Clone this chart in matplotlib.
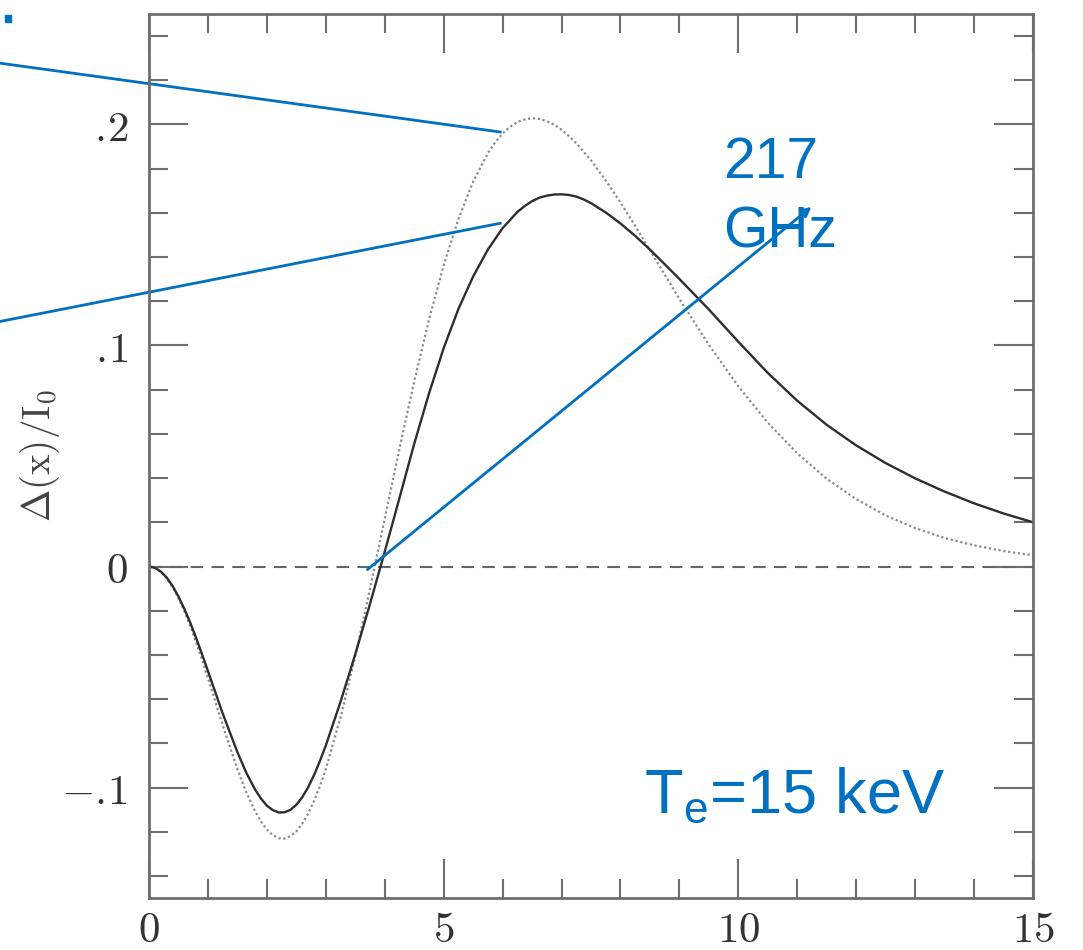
import matplotlib
matplotlib.use("Agg")
import matplotlib.pyplot as plt
from matplotlib.patches import Rectangle

plt.rcParams['mathtext.fontset'] = 'cm'
plt.rcParams['mathtext.rm'] = 'Liberation Sans'

# relativistic curve, Te = 15 keV (solid)
x_solid = [0, 0.1, 0.2, 0.3, 0.4, 0.5, 0.6, 0.7, 0.8, 0.9,
           1.0, 1.25, 1.5, 1.65, 1.8, 1.9, 2.0, 2.1, 2.2, 2.3,
           2.4, 2.5, 2.6, 2.7, 2.8, 2.9, 3.0, 3.25, 3.5, 3.75,
           4.0, 4.25, 4.5, 4.75, 5.0, 5.25, 5.5, 5.75, 6.0, 6.25,
           6.375, 6.5, 6.625, 6.75, 6.875, 7.0, 7.125, 7.25, 7.375, 7.5,
           7.75, 8.0, 8.25, 8.5, 8.75, 9.0, 9.5, 10, 10.5, 11,
           11.5, 12, 12.5, 13, 13.5, 14, 14.5, 15]
solid_vals = [0, -0.0006, -0.0023, -0.0050, -0.0088, -0.0136, -0.0192, -0.0254, -0.0324, -0.0397,
              -0.0473, -0.0665, -0.0840, -0.0933, -0.1009, -0.1050, -0.1082, -0.1102, -0.1113, -0.1112,
              -0.1101, -0.1078, -0.1044, -0.0999, -0.0944, -0.0880, -0.0810, -0.0612, -0.0397, -0.0169,
              0.0067, 0.0310, 0.0555, 0.0782, 0.0988, 0.1165, 0.1312, 0.1434, 0.1531, 0.1604,
              0.1631, 0.1653, 0.1669, 0.1678, 0.1683, 0.1684, 0.1681, 0.1674, 0.1661, 0.1644,
              0.1602, 0.1552, 0.1496, 0.1434, 0.1368, 0.1301, 0.1163, 0.1017, 0.0876, 0.0750,
              0.0641, 0.0548, 0.0468, 0.0399, 0.0339, 0.0286, 0.0240, 0.0200]

# non-relativistic curve (dotted)
x_dotted = [0, 0.1, 0.2, 0.3, 0.4, 0.5, 0.6, 0.7, 0.8, 0.9,
            1.0, 1.25, 1.5, 1.65, 1.8, 1.9, 2.0, 2.1, 2.2, 2.3,
            2.4, 2.5, 2.6, 2.7, 2.8, 2.9, 3.0, 3.25, 3.5, 3.75,
            4.0, 4.25, 4.5, 4.75, 5.0, 5.25, 5.5, 5.75, 5.875, 6.0,
            6.125, 6.25, 6.375, 6.5, 6.625, 6.75, 6.875, 7.0, 7.125, 7.25,
            7.5, 7.75, 8.0, 8.25, 8.5, 8.75, 9.0, 9.5, 10, 10.5,
            11, 11.5, 12, 12.5, 13, 13.5, 14, 14.5, 15]
dotted_vals = [0, -0.0006, -0.0024, -0.0053, -0.0093, -0.0143, -0.0203, -0.0269, -0.0344, -0.0423,
               -0.0505, -0.0717, -0.0917, -0.1021, -0.1107, -0.1154, -0.1190, -0.1215, -0.1229, -0.1231,
               -0.1220, -0.1198, -0.1164, -0.1118, -0.1061, -0.0993, -0.0916, -0.0683, -0.0406, -0.0101,
               0.0217, 0.0534, 0.0837, 0.1116, 0.1363, 0.1572, 0.1742, 0.1870, 0.1919, 0.1959,
               0.1989, 0.2011, 0.2023, 0.2028, 0.2025, 0.2015, 0.1999, 0.1976, 0.1948, 0.1915,
               0.1838, 0.1747, 0.1647, 0.1541, 0.1431, 0.1321, 0.1211, 0.1003, 0.0815, 0.0651,
               0.0512, 0.0397, 0.0305, 0.0231, 0.0174, 0.0129, 0.0096, 0.0070, 0.0051]

xticks = [0, 5, 10, 15]
xtick_labels = [r'$0$', r'$5$', r'$10$', r'$15$']
yticks = [-0.1, 0, 0.1, 0.2]
ytick_labels = [r'$-.\!1$', r'$0$', r'$.\!1$', r'$.\!2$']

blue = '#0070C0'
grey = '#6e6e6e'

fig = plt.figure(figsize=(10.83, 9.5), dpi=100)
ax = fig.add_axes([0.1376, 0.0547, 0.8162, 0.9306])

ax.axhline(0, color='#666666', lw=1.5, dashes=(6, 4))
ax.plot(x_dotted, dotted_vals, color='#8a8a8a', lw=1.6, ls=(0, (1, 1.2)))
ax.plot(x_solid, solid_vals, color='#2e2e2e', lw=1.7)

ax.set_xlim(0, 15)
ax.set_ylim(-0.15, 0.25)

ax.set_xticks(xticks)
ax.set_xticklabels(xtick_labels)
ax.set_xticks(range(0, 16), minor=True)
ax.set_yticks(yticks)
ax.set_yticklabels(ytick_labels)
ax.set_yticks([-0.14 + 0.02 * i for i in range(20)], minor=True)

ax.tick_params(which='both', direction='in', top=True, right=True, color=grey,
               width=1.5, labelcolor='#333333', labelsize=31)
ax.tick_params(which='major', length=28)
ax.tick_params(which='minor', length=14)
ax.tick_params(axis='x', pad=8)
ax.tick_params(axis='y', pad=15)
for sp in ax.spines.values():
    sp.set_color(grey)
    sp.set_linewidth(2)

ax.set_ylabel(r'$\Delta(\mathrm{x})/\mathrm{I}_0$', fontsize=28, color='#444444')
ax.yaxis.set_label_coords(-0.098, 0.5)

# blue annotations
ax.plot([-2.6, 5.96], [0.2280, 0.1966], color=blue, lw=2, clip_on=False)
ax.plot([-2.6, 5.96], [0.1105, 0.1553], color=blue, lw=2, clip_on=False)
ax.annotate('', xy=(11.24, 0.1627), xytext=(3.706, -0.0014),
            arrowprops=dict(arrowstyle='-|>', color=blue, lw=2, mutation_scale=14,
                            shrinkA=0, shrinkB=0))

ax.text(9.74, 0.1758, '217', color=blue, fontsize=41, family='Liberation Sans',
        va='baseline', ha='left')
ax.text(9.74, 0.1445, 'GHz', color=blue, fontsize=41, family='Liberation Sans',
        va='baseline', ha='left')
ax.text(8.40, -0.1113, r'T$_{\mathrm{e}}$=15 keV', color=blue, fontsize=45.5,
        family='Liberation Sans', math_fontfamily='custom', va='baseline', ha='left')

# cut-off fragment at top-left
fig.patches.append(Rectangle((5 / 1083, 1 - 22 / 950), 6 / 1083, 7 / 950,
                             transform=fig.transFigure, color=blue))

fig.savefig('out.png', dpi=100)
